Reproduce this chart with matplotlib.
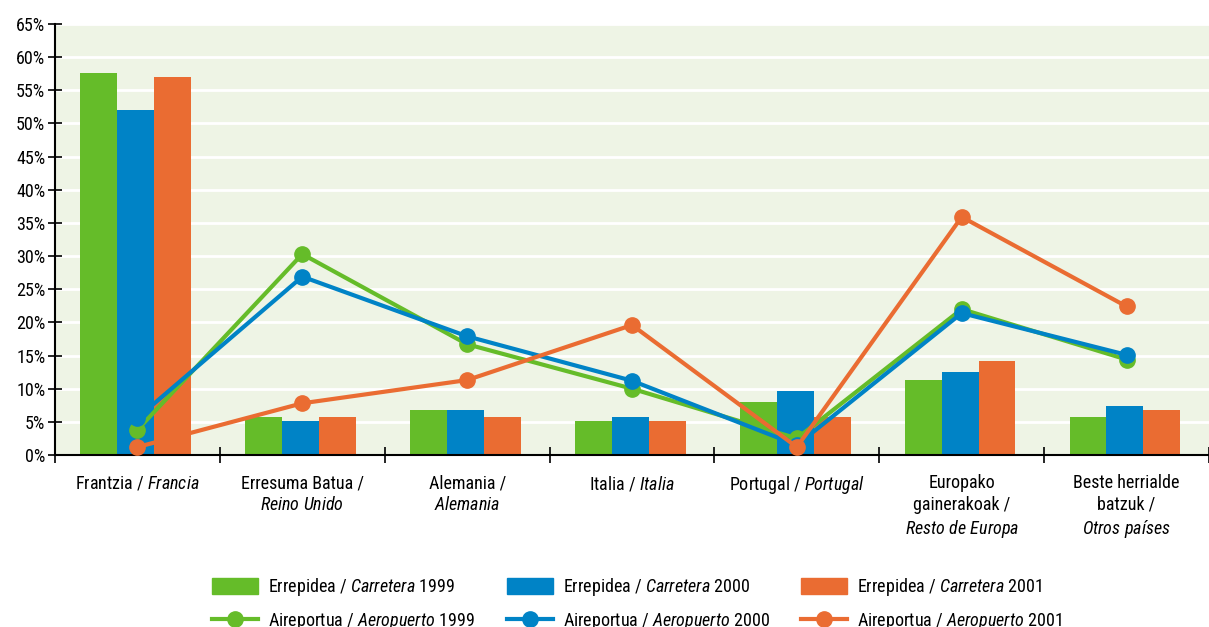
import matplotlib
matplotlib.use("Agg")
import matplotlib.pyplot as plt
from matplotlib import font_manager as fm
from matplotlib.lines import Line2D
from matplotlib.patches import Patch
import numpy as np

# pick a condensed family that is installed
installed = {f.name for f in fm.fontManager.ttflist}
FONT = next((n for n in ["Roboto Condensed", "Archivo Narrow", "PT Sans Narrow",
                         "Barlow Semi Condensed", "Liberation Sans Narrow", "DejaVu Sans"]
             if n in installed), "DejaVu Sans")
plt.rcParams["font.family"] = [FONT, "DejaVu Sans"]
plt.rcParams["mathtext.fontset"] = "custom"
plt.rcParams["mathtext.rm"] = FONT
plt.rcParams["mathtext.it"] = FONT + ":italic"

GREEN = "#65bc29"
BLUE = "#0083c6"
ORANGE = "#ea6c32"
BG = "#eef4e5"

categories = [
    "Frantzia / $\\mathit{Francia}$",
    "Erresuma Batua /\n$\\mathit{Reino\\ Unido}$",
    "Alemania /\n$\\mathit{Alemania}$",
    "Italia / $\\mathit{Italia}$",
    "Portugal / $\\mathit{Portugal}$",
    "Europako\ngainerakoak /\n$\\mathit{Resto\\ de\\ Europa}$",
    "Beste herrialde\nbatzuk /\n$\\mathit{Otros\\ países}$",
]

# road (bars)
road_1999 = [57.6, 5.7, 6.8, 5.1, 8.0, 11.3, 5.7]
road_2000 = [52.0, 5.1, 6.8, 5.7, 9.7, 12.5, 7.4]
road_2001 = [57.0, 5.7, 5.7, 5.1, 5.7, 14.2, 6.8]

# airport (lines)
air_1999 = [3.8, 30.3, 16.7, 10.0, 2.5, 22.0, 14.4]
air_2000 = [5.6, 26.9, 17.9, 11.2, 1.5, 21.4, 15.1]
air_2001 = [1.2, 7.8, 11.3, 19.6, 1.2, 35.9, 22.4]

years = ["1999", "2000", "2001"]
colors = [GREEN, BLUE, ORANGE]

fig = plt.figure(figsize=(12.09, 6.27), dpi=100)
ax = fig.add_axes([55 / 1209, 1 - 455 / 627, 1 - 55 / 1209, (455 - 24) / 627])
ax.set_facecolor(BG)

x = np.arange(len(categories))
w = 0.224
for i, (vals, c) in enumerate(zip([road_1999, road_2000, road_2001], colors)):
    ax.bar(x + (i - 1) * w - 0.01, vals, width=w, color=c, zorder=2)

for vals, c in zip([air_1999, air_2000, air_2001], colors):
    ax.plot(x, vals, color=c, lw=3, marker="o", ms=11, zorder=3)

ax.set_xlim(-0.5, len(categories) - 0.5)
ax.set_ylim(0, 65)
ax.set_yticks(np.arange(0, 66, 5))
ax.set_yticklabels([f"{v}%" for v in range(0, 66, 5)], fontsize=13)
ax.yaxis.grid(True, color="white", lw=2, zorder=1)
ax.set_axisbelow(True)
ax.tick_params(axis="y", direction="inout", length=10, width=1.2, pad=2)

ax.set_xticks(x)
ax.set_xticklabels(categories, fontsize=13, linespacing=1.25, va="top")
ax.set_xticks(np.arange(-0.5, len(categories)), minor=True)
ax.tick_params(axis="x", which="major", length=0, pad=14)
ax.tick_params(axis="x", which="minor", direction="inout", length=12, width=1.2)

for s in ["top", "right"]:
    ax.spines[s].set_visible(False)
for s in ["left", "bottom"]:
    ax.spines[s].set_linewidth(1.5)

handles = []
labels = []
for y, c in zip(years, colors):
    handles.append(Patch(color=c))
    labels.append(f"Errepidea / $\\mathit{{Carretera}}$ {y}")
for y, c in zip(years, colors):
    handles.append(Line2D([], [], color=c, lw=3, marker="o", ms=11))
    labels.append(f"Aireportua / $\\mathit{{Aeropuerto}}$ {y}")

# reorder so that columns hold one year each
order = [0, 3, 1, 4, 2, 5]
fig.legend([handles[i] for i in order], [labels[i] for i in order],
           ncol=3, loc="upper center", bbox_to_anchor=(0.527, 1 - 560 / 627),
           frameon=False, fontsize=13, handlelength=2.55, handleheight=1.0,
           labelspacing=0.7, columnspacing=1.75, handletextpad=0.55)

fig.savefig("out.png", dpi=100)
